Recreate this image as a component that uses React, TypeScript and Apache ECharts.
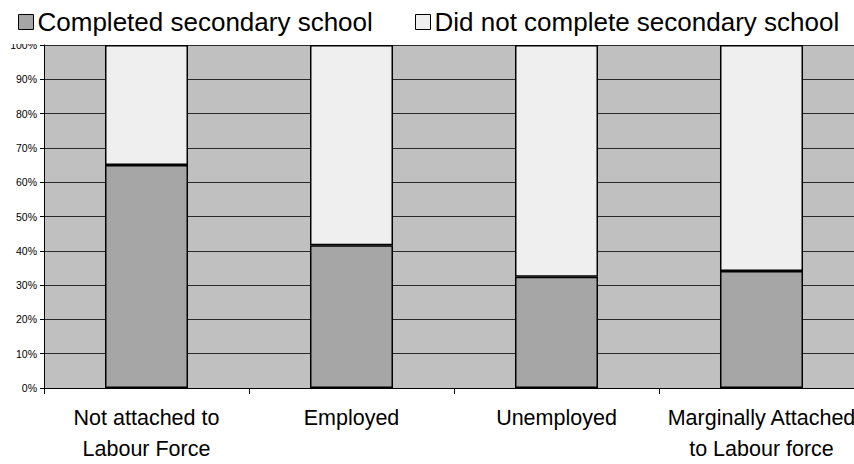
import React, { useEffect, useRef } from "react";
import * as echarts from "echarts";

const categories = [
  "Not attached to\nLabour Force",
  "Employed",
  "Unemployed",
  "Marginally Attached\nto Labour force",
];
const completed = [65, 41.6, 32.4, 34.1];
const notCompleted = completed.map((v) => 100 - v);
const yTicks = [0, 10, 20, 30, 40, 50, 60, 70, 80, 90, 100];
const seriesNames = ["Completed secondary school", "Did not complete secondary school"];

export default function App() {
  const ref = useRef<HTMLDivElement>(null);

  useEffect(() => {
    const chart = echarts.init(ref.current!, undefined, { renderer: "svg" });
    const font = "'Liberation Sans', Arial, sans-serif";
    const legendBase = {
      top: 4,
      itemWidth: 15,
      itemHeight: 15,
      icon: "rect",
      z: 10,
      textStyle: { fontSize: 26, color: "#000", fontFamily: font, padding: [0, 0, 0, -1] },
    };
    chart.setOption({
      animation: false,
      textStyle: { fontFamily: font },
      legend: [
        {
          ...legendBase,
          left: 13,
          data: [{ name: seriesNames[0], itemStyle: { borderColor: "#000", borderWidth: 1 } }],
        },
        {
          ...legendBase,
          left: 410,
          data: [{ name: seriesNames[1], itemStyle: { borderColor: "#000", borderWidth: 1 } }],
        },
      ],
      grid: {
        left: 44,
        right: 0,
        top: 45,
        bottom: 73,
        show: true,
        backgroundColor: "#c0c0c0",
        borderWidth: 0,
      },
      xAxis: {
        type: "category",
        data: categories,
        axisLine: { lineStyle: { color: "#000", width: 1 } },
        axisTick: { show: true, length: 6, lineStyle: { color: "#000" } },
        axisLabel: {
          interval: 0,
          fontSize: 21.5,
          lineHeight: 31,
          color: "#000",
          margin: 14,
          verticalAlign: "top",
          fontFamily: font,
        },
      },
      yAxis: {
        type: "value",
        min: yTicks[0],
        max: yTicks[yTicks.length - 1],
        interval: 10,
        axisLine: { show: true, lineStyle: { color: "#000", width: 1 } },
        axisTick: { show: true, length: 4, lineStyle: { color: "#000" } },
        splitLine: { show: true, lineStyle: { color: "#2a2a2a", width: 1 } },
        axisLabel: {
          fontSize: 10.5,
          color: "#000",
          margin: 7,
          formatter: "{value}%",
          fontFamily: font,
        },
      },
      graphic: [
        {
          // white band under the legend, trimming the top tick label
          type: "rect",
          left: 0,
          top: 0,
          z: 5,
          shape: { width: 42, height: 44 },
          style: { fill: "#fff" },
        },
      ],
      series: [
        {
          name: seriesNames[0],
          type: "bar",
          stack: "total",
          barWidth: "40.5%",
          data: completed,
          itemStyle: { color: "#a6a6a6", borderColor: "#000", borderWidth: 1.5 },
        },
        {
          name: seriesNames[1],
          type: "bar",
          stack: "total",
          barWidth: "40.5%",
          data: notCompleted,
          itemStyle: { color: "#efefef", borderColor: "#000", borderWidth: 1.5 },
        },
      ],
    });
    return () => chart.dispose();
  }, []);

  return (
    <div
      style={{
        position: "absolute",
        left: 0,
        top: 0,
        width: 854,
        height: 464,
        overflow: "hidden",
        background: "#fff",
      }}
    >
      <div ref={ref} style={{ width: 864, height: 464 }} />
    </div>
  );
}
